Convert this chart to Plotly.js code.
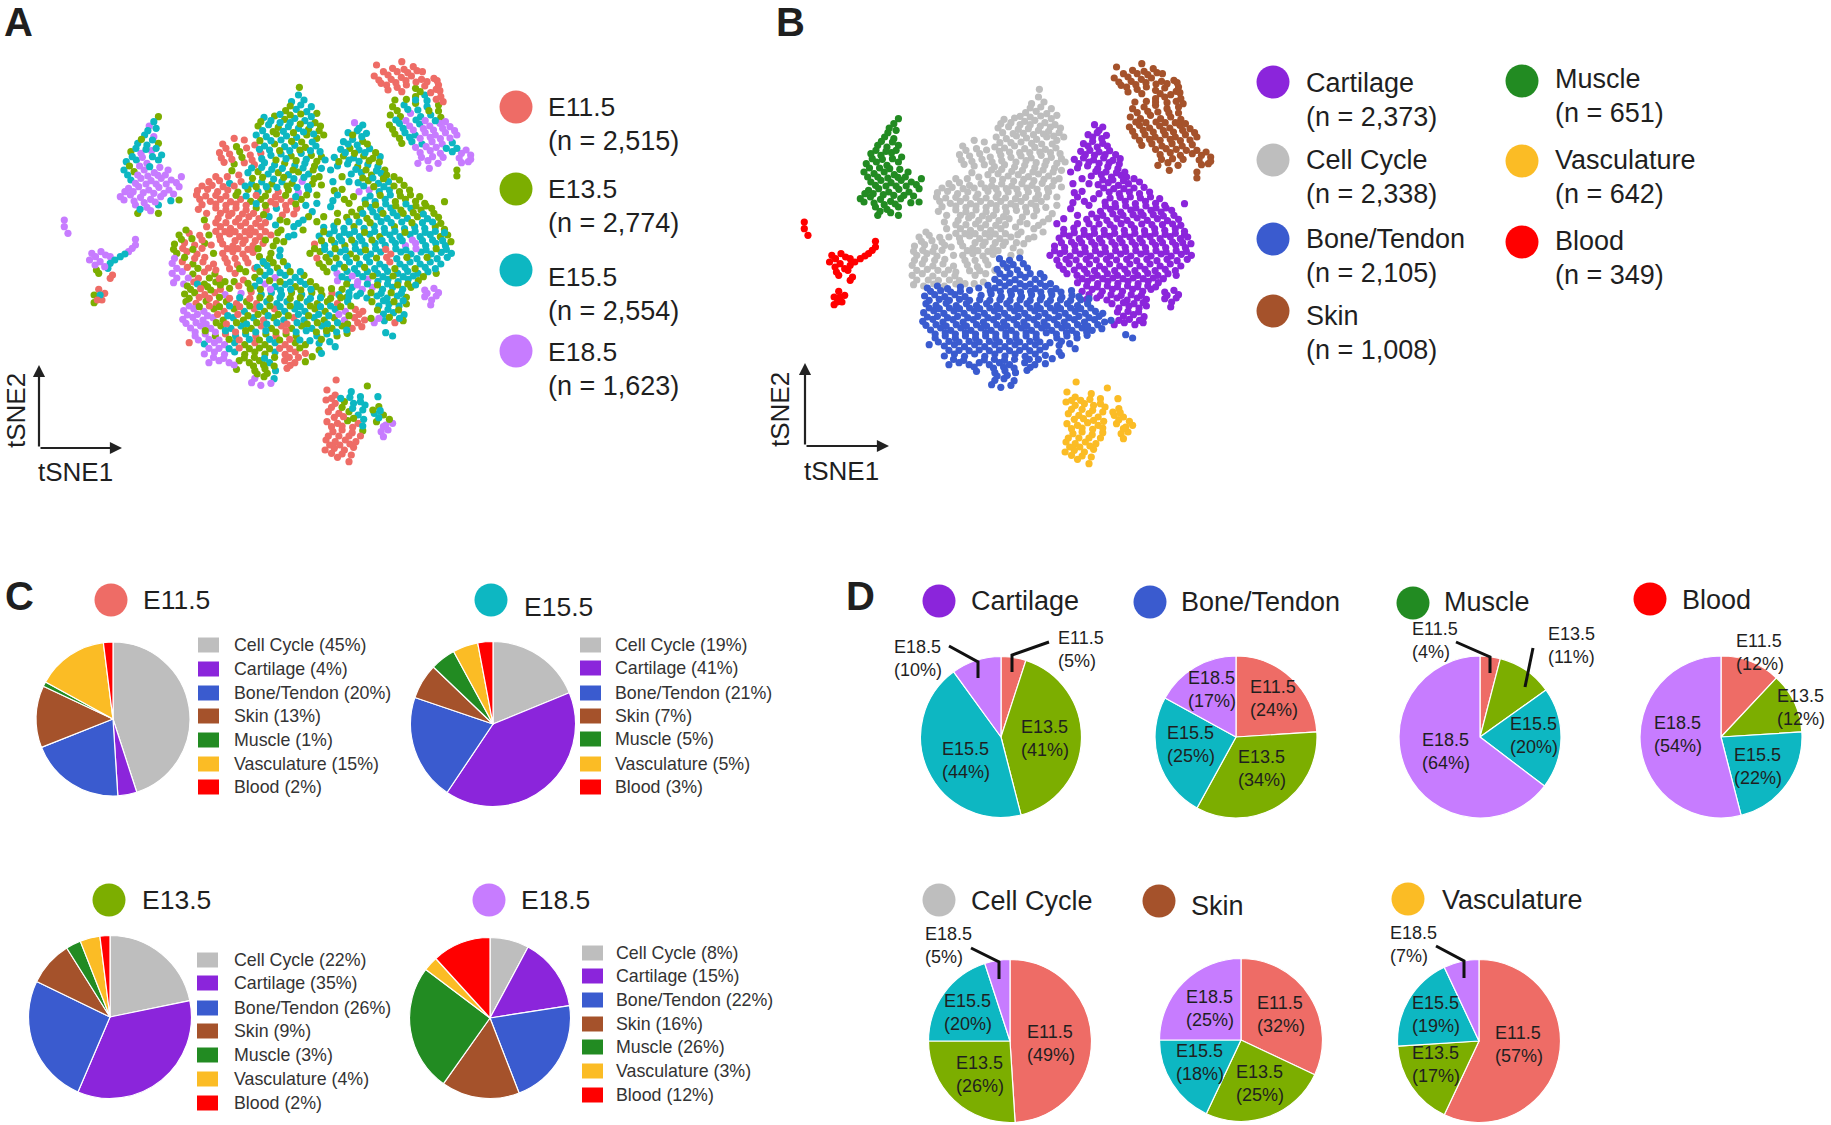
<!DOCTYPE html>
<html>
<head>
<meta charset="utf-8">
<script src="https://cdn.plot.ly/plotly-3.0.1.min.js"></script>
<style>body{margin:0;background:#fff}</style>
</head>
<body>
<div id="chart"></div>
<script>
const W = 1831, H = 1125;

// stages and cell types
const stages = ['E11.5', 'E13.5', 'E15.5', 'E18.5'];
const stageCounts = ['2,515', '2,774', '2,554', '1,623'];
const stageColors = ['#EE6C66', '#7CAE00', '#0DB7C2', '#C77CFF'];

const cellTypes = ['Cell Cycle', 'Cartilage', 'Bone/Tendon', 'Skin', 'Muscle', 'Vasculature', 'Blood'];
const cellTypeCounts = ['2,338', '2,373', '2,105', '1,008', '651', '642', '349'];
const cellTypeColors = ['#BEBEBE', '#8B25DB', '#3A5BCF', '#A5522B', '#228B22', '#FBBC25', '#FF0000'];

// panel C: cell type share per stage
const mixE115 = [45, 4, 20, 13, 1, 15, 2];
const mixE135 = [22, 35, 26, 9, 3, 4, 2];
const mixE155 = [19, 41, 21, 7, 5, 5, 3];
const mixE185 = [8, 15, 22, 16, 26, 3, 12];

// panel D: stage share per cell type
const mixCartilage = [5, 41, 44, 10];
const mixBone = [24, 34, 25, 17];
const mixMuscle = [4, 11, 20, 64];
const mixBlood = [12, 12, 22, 54];
const mixCycle = [49, 26, 20, 5];
const mixSkin = [32, 25, 18, 25];
const mixVasc = [57, 17, 19, 7];

// tSNE cells: x, y, stage index, repeated
const cyclePts = [
652,262,1, 650,285,2, 635,305,2, 662,300,2, 622,332,1, 645,328,2, 668,335,2, 690,340,1,
575,352,2, 598,348,1, 620,358,1, 642,355,2, 664,362,2, 686,368,1,
562,378,1, 585,374,2, 606,382,1, 628,380,2, 650,385,2, 672,388,1, 695,392,1,
558,405,2, 580,410,2, 602,402,1, 624,408,2, 646,412,2, 668,405,1, 690,415,1,
485,432,0, 510,415,0, 532,420,0, 555,435,0, 576,438,2, 598,432,1, 620,440,2, 642,436,2, 665,442,1, 688,438,2,
478,458,0, 500,462,0, 522,455,1, 545,465,0, 568,460,0, 590,466,2, 612,462,2, 634,468,1, 656,460,2, 678,466,1, 700,470,1,
488,487,0, 510,492,1, 532,488,0, 554,494,0, 576,488,2, 598,495,2, 620,490,1, 642,497,2, 664,490,2, 685,498,1,
540,518,2, 562,515,1, 584,522,2, 606,518,1, 628,524,2, 650,516,1, 672,522,2,
455,545,0, 478,542,0, 500,550,2, 525,545,0, 548,552,2, 570,546,2, 592,552,1, 614,545,2, 636,550,1, 658,544,3, 680,552,1,
430,572,0, 452,568,0, 474,575,0, 496,570,0, 518,576,1, 540,568,1, 562,575,2, 584,570,1, 606,576,0, 628,570,1, 650,578,3, 672,570,2,
435,598,0, 458,604,0, 480,598,0, 502,605,0, 524,598,0, 546,604,1, 568,598,1, 590,605,0, 612,598,0, 634,604,0, 656,598,1,
432,628,0, 470,624,0, 492,630,0, 514,624,0, 536,630,0, 558,624,1, 580,630,0, 602,625,2, 624,630,0, 646,625,0,
475,655,0, 498,648,0, 520,655,0, 542,650,0, 564,656,0, 586,650,2,
480,680,0, 502,685,0, 524,678,0, 546,685,0, 568,680,0, 612,690,1, 640,680,2,
390,705,1, 412,700,0, 435,706,0, 478,708,0, 500,702,0, 522,710,0, 544,704,0, 566,710,0, 590,705,0,
380,732,1, 402,728,0, 424,735,0, 446,730,1, 485,732,0, 507,738,0, 529,730,0, 551,737,0, 573,730,0, 595,738,1,
385,760,1, 407,755,0, 429,762,0, 485,760,0, 507,755,0, 529,762,0, 551,757,0,
375,790,3, 397,785,0, 420,792,1, 442,786,0, 465,792,0, 495,788,0, 517,794,0, 540,788,0,
375,820,3, 397,815,3, 420,822,1, 445,816,0, 468,822,1, 512,820,0, 535,815,1,
378,848,3, 400,852,3, 422,846,0, 445,852,1, 470,846,1,
632,318,1, 655,315,2, 678,320,2, 610,343,2, 632,345,1, 655,342,1, 678,350,2,
568,365,1, 590,362,2, 610,368,2, 632,368,2, 654,372,1, 676,375,2, 698,378,1,
572,392,2, 595,395,1, 617,394,2, 639,398,1, 661,396,2, 683,402,2, 705,405,1,
566,422,1, 590,422,2, 612,420,2, 635,424,1, 657,426,1, 680,426,2,
492,445,0, 515,440,1, 537,444,0, 565,448,2, 587,450,2, 609,452,1, 631,452,2, 653,450,1, 676,452,2, 697,455,2,
482,474,0, 505,478,0, 527,472,1, 549,480,0, 570,476,2, 601,480,1, 623,476,2, 645,482,1, 667,478,2, 690,484,1,
548,504,2, 570,502,2, 592,508,2, 615,505,2, 638,510,1, 660,504,2, 682,510,1,
470,530,0, 550,535,1, 572,532,1, 596,537,2, 618,532,1, 640,536,2, 662,532,2, 684,536,1,
440,558,0, 462,556,0, 486,560,0, 510,558,0, 534,558,2, 558,560,1, 580,560,2, 603,562,2, 625,558,1, 647,562,2, 670,560,2,
428,585,0, 448,588,0, 470,586,0, 492,588,0, 514,586,1, 536,588,2, 558,586,0, 578,588,1, 600,590,0, 622,586,1, 644,590,2, 668,585,1,
440,614,0, 470,612,0, 492,616,0, 514,612,0, 536,616,0, 558,611,2, 578,616,1, 600,612,0, 622,616,0, 644,612,1, 666,616,2,
480,640,0, 505,640,0, 528,642,0, 552,640,0, 574,644,1, 615,645,0, 640,642,0,
470,668,0, 492,668,0, 513,666,0, 535,668,0, 557,670,0, 578,668,0, 625,665,1, 650,670,2,
405,690,1, 470,694,0, 490,695,0, 512,695,0, 534,695,0, 556,696,0, 578,695,0, 605,698,1, 628,710,2,
395,718,1, 418,716,1, 440,720,0, 480,720,0, 512,722,0, 534,720,0, 556,722,0, 578,720,1, 602,722,1,
378,748,1, 398,745,0, 420,748,1, 440,745,0, 495,746,0, 518,746,0, 540,748,0, 562,746,1,
380,775,3, 402,772,1, 424,775,0, 446,772,0, 490,775,0, 512,775,0, 535,775,0,
385,805,3, 408,802,0, 431,805,1, 454,804,0, 500,806,0, 522,806,1,
385,834,3, 410,834,3, 432,835,0, 456,834,1, 478,836,0,
505,512,1, 520,525,0, 495,530,0, 708,480,2, 700,505,2, 695,530,1, 700,555,1, 690,585,1, 690,610,2, 680,635,2,
672,650,1, 660,660,2, 610,660,1, 600,675,2, 660,690,1, 640,705,2, 618,725,1, 610,750,2, 590,760,1, 575,790,1, 555,805,0,
450,640,0, 445,660,1, 450,680,0, 455,705,1, 460,735,0, 465,760,1, 470,810,0, 490,845,1, 510,845,1, 530,840,0
];

const cartilagePts = [
772,368,3, 790,375,2, 758,398,2, 778,392,2, 798,400,2, 748,425,2, 768,418,2, 790,424,1,
742,448,2, 762,445,1, 782,450,2, 805,446,2, 728,472,2, 748,468,1, 770,474,2, 792,468,1, 812,475,1, 828,470,2,
735,498,2, 757,492,2, 779,500,1, 801,494,2, 823,500,2, 838,510,1, 765,522,2, 787,518,2, 809,525,1, 830,520,2,
780,548,2, 802,542,1, 824,550,2, 846,545,2, 870,540,1,
728,572,1, 745,568,1, 782,575,3, 804,570,3, 826,575,2, 848,570,2, 870,575,1, 892,570,1,
725,602,2, 750,598,1, 795,600,2, 817,605,2, 839,598,2, 861,605,1, 883,598,1, 905,604,1, 925,610,1, 968,605,1,
785,628,1, 807,622,2, 829,630,2, 851,624,2, 873,630,1, 895,625,2, 917,630,1, 940,625,1,
755,652,1, 777,648,1, 799,655,1, 821,650,2, 843,655,2, 865,648,2, 887,655,2, 909,650,1, 931,656,2, 955,652,1,
705,682,2, 727,678,2, 749,685,2, 771,680,1, 793,685,2, 815,678,2, 837,685,2, 859,680,1, 881,686,2, 903,680,2, 925,685,2, 948,680,1, 968,688,1,
695,708,2, 717,702,2, 739,710,2, 761,704,2, 783,710,2, 805,703,2, 827,710,1, 849,705,2, 871,710,2, 893,704,2, 915,710,2, 937,704,2, 959,710,1, 975,705,1,
685,732,0, 707,736,2, 729,730,2, 751,737,1, 773,730,2, 795,737,2, 817,730,2, 839,736,2, 861,730,2, 883,737,3, 905,730,3, 927,737,2, 949,730,2, 970,737,2,
675,760,1, 697,755,1, 719,762,2, 741,756,2, 763,762,1, 785,756,2, 807,762,2, 829,756,2, 851,762,0, 873,756,2, 895,762,2, 917,756,2, 939,762,2, 961,757,2, 983,760,2,
695,790,1, 717,785,1, 739,792,2, 761,786,2, 783,792,2, 805,786,2, 827,792,2, 849,786,0, 871,792,2, 893,786,2, 915,792,2, 937,786,2, 960,792,2,
712,815,1, 734,820,3, 756,814,2, 778,820,2, 800,815,2, 822,820,2, 844,814,2, 866,820,2, 888,814,2, 910,820,2, 932,815,2, 950,820,1,
735,842,3, 757,838,2, 779,845,3, 801,838,3, 823,844,2, 845,838,2, 867,845,2, 889,838,2, 911,842,1,
745,868,1, 767,862,2, 789,868,3, 811,862,3, 833,868,2, 855,862,2, 877,868,2, 895,862,1, 925,870,3, 945,865,3,
755,892,1, 777,888,2, 799,894,2, 821,888,2, 843,894,2, 865,888,2, 885,892,1, 925,890,3, 950,888,3,
825,918,2, 847,912,2, 869,918,2, 885,912,1, 938,915,3, 835,942,2, 857,938,2, 880,944,2,
815,968,3, 837,962,2, 860,968,0, 878,962,1,
782,385,2, 768,405,1, 788,410,2, 758,432,2, 778,435,2, 800,432,1, 752,458,2, 772,460,1, 795,458,2, 818,458,1,
738,485,1, 760,480,2, 782,484,2, 804,482,1, 826,486,1, 775,508,2, 797,510,1, 820,512,2, 842,525,1,
790,534,1, 812,534,2, 835,536,1, 858,530,1, 735,585,2, 792,558,2, 814,560,1, 836,560,2, 858,558,1, 880,556,1,
806,588,2, 828,586,1, 850,585,2, 872,588,1, 894,585,1, 914,590,1,
796,612,1, 818,615,1, 840,612,2, 862,618,1, 884,612,2, 906,618,1, 928,618,1,
766,636,1, 790,640,2, 812,636,2, 834,640,1, 856,638,2, 878,640,1, 900,638,1, 922,642,2, 945,640,1,
735,665,1, 760,665,2, 782,666,2, 806,668,1, 830,665,2, 852,668,2, 875,666,2, 897,668,1, 920,668,2, 942,666,2, 960,670,1,
705,695,1, 728,692,2, 750,697,2, 772,694,2, 794,697,1, 816,694,2, 838,697,2, 860,694,2, 882,697,1, 904,694,2, 926,697,2, 948,694,2, 968,698,2,
700,722,1, 722,720,1, 744,722,2, 766,720,1, 788,722,2, 810,720,1, 832,722,2, 854,720,2, 876,722,2, 898,720,3, 920,722,2, 942,720,2, 964,722,2, 982,725,1,
685,746,1, 707,748,2, 730,746,1, 752,750,2, 774,746,2, 796,750,1, 818,746,2, 840,748,0, 862,746,2, 884,750,2, 906,746,3, 928,750,2, 950,746,1, 972,748,2,
690,774,0, 710,772,1, 732,774,1, 754,772,2, 776,774,1, 798,772,2, 820,774,1, 842,772,0, 864,776,2, 886,772,1, 908,776,2, 930,772,1, 952,776,2, 974,772,2,
704,802,1, 728,804,2, 750,802,1, 772,806,2, 794,802,1, 816,806,2, 838,802,2, 860,806,1, 882,802,2, 904,806,1, 926,802,2, 948,806,2,
745,830,2, 767,828,3, 790,830,2, 812,828,1, 834,830,2, 856,828,1, 878,830,2, 900,828,2, 922,830,1,
755,852,1, 778,855,3, 800,852,2, 822,855,1, 844,852,2, 866,855,1, 888,852,1, 905,855,2,
760,878,2, 785,880,2, 808,878,1, 830,880,2, 852,878,1, 874,880,2, 930,880,3, 955,878,3,
810,905,1, 835,902,2, 858,905,1, 878,902,2, 940,900,3,
822,930,1, 845,928,2, 868,930,1, 825,955,3, 848,952,1, 870,955,2,
720,620,2, 735,640,1, 705,650,1, 690,665,1, 760,610,1, 770,590,1, 760,545,2, 720,510,2, 745,530,1, 725,545,2
];

const bonePts = [
565,770,1, 587,775,1, 609,768,2, 560,802,2, 582,797,2, 604,804,1, 626,798,2,
555,832,1, 577,826,2, 599,833,3, 621,826,2, 643,832,2, 662,826,1,
408,858,1, 430,852,2, 452,860,1, 555,858,2, 577,852,3, 599,860,2, 621,853,2, 643,860,1, 665,853,2, 688,860,1,
402,882,1, 424,878,1, 446,884,0, 468,878,0, 490,884,3, 525,880,3, 547,876,0, 569,884,2, 591,878,2, 613,884,2, 635,878,1, 657,884,2, 679,878,1, 701,885,1, 723,880,0, 738,884,2,
405,905,1, 427,910,0, 449,904,1, 471,911,0, 493,905,1, 515,911,0, 537,905,1, 559,911,0, 581,905,2, 603,911,2, 625,905,2, 647,911,2, 669,905,2, 691,911,1, 713,905,1, 735,911,0, 757,905,2,
400,932,3, 422,926,3, 444,934,3, 466,927,1, 488,934,0, 510,927,1, 532,934,2, 554,927,0, 576,934,1, 598,927,0, 620,934,2, 642,927,2, 664,934,2, 686,927,1, 708,934,1, 730,928,2, 752,934,3, 774,928,0, 790,934,0,
398,958,3, 420,952,3, 442,960,3, 464,953,3, 486,960,1, 508,953,2, 530,960,1, 552,953,2, 574,960,0, 596,953,1, 618,960,2, 640,953,0, 662,960,2, 684,953,2, 706,960,1, 728,953,1, 750,960,3, 772,953,0, 794,960,0, 808,955,1,
415,984,3, 437,978,3, 459,985,3, 481,978,1, 503,985,2, 525,978,2, 547,985,1, 569,978,0, 591,985,1, 613,978,0, 635,985,1, 657,978,1, 679,985,2, 701,978,2, 723,985,1, 745,978,1, 767,985,0, 788,980,0,
425,1008,3, 447,1002,3, 469,1008,1, 491,1002,0, 513,1008,2, 535,1002,2, 557,1008,0, 579,1002,1, 601,1008,0, 623,1002,1, 645,1008,1, 690,1008,2, 712,1002,2, 734,1008,1, 756,1000,1,
412,1028,0, 445,1032,2, 467,1028,3, 489,1034,3, 511,1028,2, 533,1034,1, 555,1028,0, 577,1034,1, 599,1028,2, 621,1034,0, 643,1028,1, 665,1034,1, 695,1030,2, 718,1025,2,
445,1062,3, 467,1056,3, 489,1063,3, 511,1056,2, 533,1063,1, 555,1056,1, 577,1062,1, 599,1056,2, 621,1063,0, 643,1056,0, 665,1060,0, 695,1050,1,
455,1088,3, 477,1082,3, 499,1088,3, 521,1082,1, 543,1088,1, 565,1082,1, 587,1088,2, 620,1082,0, 642,1088,0,
515,1108,1, 555,1112,1, 577,1106,1, 600,1112,2, 625,1105,0, 555,1135,3, 575,1130,1, 597,1136,2, 568,1156,3, 590,1150,3,
840,998,2, 855,1008,2, 730,1040,2,
573,785,2, 595,788,1, 617,785,1, 566,815,1, 588,815,2, 610,818,2, 632,815,1, 654,815,2,
565,842,2, 587,842,1, 610,845,1, 632,846,2, 654,844,2, 676,845,1,
415,868,1, 437,866,0, 459,870,1, 480,868,0, 545,866,1, 567,868,1, 589,868,3, 611,870,2, 633,868,2, 655,870,1, 677,868,2, 699,870,1, 722,866,1,
412,895,1, 434,892,0, 456,895,0, 478,892,1, 500,895,0, 522,893,2, 544,895,0, 566,893,1, 588,895,1, 610,893,2, 632,895,1, 654,893,1, 676,895,2, 698,893,2, 720,895,1, 742,893,1, 760,890,2,
412,918,3, 434,920,1, 456,918,0, 478,920,1, 500,918,2, 522,920,0, 544,918,1, 566,920,2, 588,918,1, 610,920,2, 632,918,1, 654,920,2, 676,918,1, 698,920,2, 720,918,2, 742,920,1, 764,918,1,
408,945,3, 430,943,3, 452,947,3, 474,943,0, 496,947,2, 518,943,0, 540,947,1, 562,943,1, 584,947,2, 606,943,1, 628,947,1, 650,943,2, 672,947,1, 694,943,2, 716,947,2, 738,943,3, 760,947,1, 782,943,0,
405,970,3, 427,968,3, 449,972,3, 471,968,1, 493,972,0, 515,968,1, 537,972,2, 559,968,1, 581,972,2, 603,968,2, 625,972,0, 647,968,2, 669,972,1, 691,968,1, 713,972,2, 735,968,2, 757,972,1, 779,968,0,
425,996,3, 447,992,1, 469,996,3, 491,992,2, 513,996,0, 535,992,1, 557,996,2, 579,992,2, 601,996,1, 623,992,0, 645,996,2, 667,992,2, 689,996,1, 711,992,1, 733,996,2, 755,990,2,
432,1020,3, 455,1018,3, 477,1020,3, 499,1018,1, 521,1020,0, 543,1018,2, 565,1020,1, 587,1018,2, 609,1020,1, 631,1018,0, 653,1020,2, 675,1022,2, 700,1018,1,
455,1045,3, 477,1045,3, 499,1046,2, 521,1044,0, 543,1046,1, 565,1044,1, 587,1046,1, 609,1045,0, 631,1046,0, 653,1044,1,
465,1072,3, 487,1075,3, 532,1074,1, 554,1072,1, 576,1075,2, 598,1072,1, 630,1072,0, 650,1072,0,
510,1095,3, 552,1098,1, 574,1095,1, 597,1098,1, 632,1096,0, 560,1122,1, 582,1120,1, 548,1148,3,
480,855,1, 500,865,1, 520,858,0, 540,850,1, 665,1085,1, 680,1070,1, 700,1060,2
];

const skinPts = [
820,195,0, 815,228,0, 835,215,0, 855,205,0, 875,185,0, 880,208,0, 900,200,0, 920,215,0,
830,250,0, 852,238,0, 874,232,0, 896,228,0, 918,238,0, 945,235,0, 955,255,0,
845,270,0, 865,262,0, 885,255,0, 905,265,1, 925,258,0, 950,268,0, 905,290,1, 925,285,2, 960,290,0,
855,320,1, 880,315,2, 905,310,1, 930,320,2, 955,315,1, 965,305,0,
850,345,1, 872,350,1, 894,340,3, 916,350,2, 938,345,2, 960,352,1,
848,375,1, 870,370,2, 892,378,3, 914,372,2, 936,378,3, 958,370,3, 980,380,3,
860,402,1, 882,398,2, 904,405,2, 926,398,3, 948,405,3, 970,398,3, 995,405,3,
875,430,1, 897,425,2, 919,432,2, 941,425,3, 963,432,3, 985,428,2,
915,458,3, 937,452,3, 959,460,3, 985,455,2, 1005,460,3, 1025,465,3,
910,490,3, 932,482,3, 954,490,3, 1005,488,3, 1020,485,3, 935,505,3, 995,510,1, 995,528,1,
825,240,0, 845,225,0, 865,215,0, 888,218,0, 908,212,0, 842,255,0, 862,248,0, 884,242,0, 906,246,0, 930,245,0, 952,242,0,
875,275,0, 915,275,1, 938,278,0, 958,272,0, 860,300,1, 885,298,1, 905,300,2, 930,302,2, 950,298,0,
865,332,1, 888,328,2, 910,330,2, 934,332,1, 955,333,1, 862,360,2, 884,362,3, 906,360,2, 926,362,3, 948,362,2, 970,365,3,
855,388,1, 878,385,2, 900,390,3, 922,386,3, 944,390,3, 964,385,3, 990,392,3,
870,415,1, 892,412,2, 915,415,3, 937,412,3, 959,416,3, 980,414,3,
905,442,3, 928,440,3, 950,442,3, 972,445,2, 995,445,2, 1015,450,3, 918,472,3, 942,470,3, 965,472,3, 1000,474,3, 1025,478,3
];

const musclePts = [
345,350,1, 325,378,3, 340,385,2, 315,405,2, 335,410,3, 300,430,2, 320,435,2, 345,430,1,
285,455,1, 307,460,3, 330,452,3, 275,485,2, 297,480,2, 320,490,3, 345,480,2,
270,510,2, 292,515,1, 314,510,3, 336,518,3, 360,525,3,
285,540,2, 307,535,3, 329,542,3, 351,535,3, 373,540,3, 395,530,3,
280,565,3, 302,560,3, 324,570,3, 346,562,3, 368,570,3, 390,560,3,
262,590,3, 284,585,3, 306,592,3, 328,598,3, 350,590,3, 372,602,2, 390,600,1,
295,615,3, 320,622,3, 345,615,2, 300,640,1, 345,640,1,
335,365,2, 322,392,2, 308,418,1, 332,420,2, 296,445,2, 318,448,2, 340,445,2, 288,470,2, 310,472,3, 332,470,2, 352,465,2,
282,498,1, 304,498,3, 326,500,2, 348,502,3, 278,525,2, 300,525,3, 322,528,3, 344,526,3, 366,510,3,
295,550,3, 318,552,3, 340,552,3, 362,552,3, 384,548,3, 272,575,3, 290,575,3, 312,578,3, 335,580,3, 357,580,3, 378,582,3,
270,600,3, 292,603,3, 314,608,3, 338,606,3, 305,628,2, 328,632,3
];

const bloodPts = [
140,660,3, 140,680,3, 148,700,3, 200,760,3, 220,755,3, 240,770,3, 195,780,3, 218,785,3, 240,790,2,
210,810,1, 235,805,2, 245,825,0, 240,835,0, 262,770,2, 280,755,3, 295,735,3, 295,718,3,
215,868,0, 228,880,0, 205,885,1, 222,900,0, 205,908,1,
208,770,3, 230,765,3, 207,795,3, 228,800,3, 250,780,2, 272,762,2, 288,745,3, 215,820,1, 218,885,2, 212,900,0
];

const vascPts = [
732,1140,0, 800,1158,1, 823,1190,2, 712,1170,0, 730,1185,0, 765,1175,2, 785,1190,2,
710,1200,0, 730,1210,0, 750,1205,1, 770,1210,2, 795,1215,2, 825,1220,1,
715,1235,0, 738,1240,0, 760,1235,1, 780,1245,2, 815,1240,2, 835,1245,1,
712,1265,0, 735,1270,0, 757,1262,1, 780,1270,0, 820,1265,1, 840,1275,3, 855,1270,3,
725,1295,0, 745,1290,0, 767,1298,0, 790,1292,1, 830,1295,3, 845,1290,3,
710,1320,0, 730,1325,0, 752,1320,0, 775,1325,0, 835,1310,3,
708,1350,0, 728,1345,0, 750,1350,0, 770,1342,0, 735,1372,0, 760,1385,0,
722,1195,0, 742,1195,2, 762,1192,2, 785,1205,2, 812,1230,1,
722,1222,0, 745,1222,1, 768,1225,2, 790,1230,2, 828,1232,2,
728,1252,0, 748,1250,0, 770,1255,1, 792,1258,2, 825,1253,2, 848,1258,1,
722,1280,0, 745,1278,0, 768,1282,0, 790,1278,2, 835,1280,3,
715,1308,0, 738,1308,0, 760,1308,0, 785,1308,0,
718,1335,0, 740,1335,0, 762,1332,0, 722,1360,0, 745,1362,0, 765,1365,0
];

const cellGroups = [cyclePts, cartilagePts, bonePts, skinPts, musclePts, vascPts, bloodPts];
const cellsX = [], cellsY = [], cellsByStage = [], cellsByType = [];
cellGroups.forEach((pts, t) => {
    for (let i = 0; i < pts.length; i += 3) {
        cellsX.push(pts[i]);
        cellsY.push(pts[i + 1]);
        cellsByStage.push(stageColors[pts[i + 2]]);
        cellsByType.push(cellTypeColors[t]);
    }
});

// tSNE scatters, one per panel
const tsneA = {x: cellsX, y: cellsY, type: 'scatter', mode: 'markers', xaxis: 'x', yaxis: 'y',
    marker: {size: 7.2, color: cellsByStage}, hoverinfo: 'skip'};
const tsneB = {x: cellsX, y: cellsY, type: 'scatter', mode: 'markers', xaxis: 'x2', yaxis: 'y2',
    marker: {size: 7.2, color: cellsByType}, hoverinfo: 'skip'};

// everything below sits on a page sized overlay axis
const annotations = [];
const shapes = [];

function label(x, y, text, size, opts) {
    annotations.push(Object.assign({
        x: x, y: y, xref: 'x3', yref: 'y3', text: text, showarrow: false,
        xanchor: 'left', yanchor: 'middle', align: 'left', borderpad: 0,
        font: {family: 'Liberation Sans, Arial, sans-serif', size: size, color: '#1f1f1f'}
    }, opts || {}));
}

const dotX = [], dotY = [], dotC = [];
function dot(x, y, color) { dotX.push(x); dotY.push(y); dotC.push(color); }

// panel letters
label(3, 22, '<b>A</b>', 40);
label(775, 22, '<b>B</b>', 40);
label(4, 596, '<b>C</b>', 40);
label(845, 596, '<b>D</b>', 40);

// tSNE arrows
function tsneArrows(ox, oy, endX, endY, x1, y1, x2, y2) {
    [[endX, oy], [ox, endY]].forEach(p => annotations.push({
        x: p[0], y: p[1], ax: ox, ay: oy, xref: 'x3', yref: 'y3', axref: 'x3', ayref: 'y3', text: '',
        showarrow: true, arrowhead: 2, arrowsize: 1.1, arrowwidth: 2.2, arrowcolor: '#222', standoff: 0
    }));
    label(x1, y1, 'tSNE1', 26, {xanchor: 'center'});
    label(x2, y2, 'tSNE2', 26, {xanchor: 'center', textangle: -90});
}
tsneArrows(39, 448, 122, 365, 75, 472, 16, 411);
tsneArrows(805, 446, 889, 363, 841, 471, 780, 410);

// panel A legend
const legendAY = [107, 189, 270, 351];
const legendATextY = [107, 189, 277, 352];
stages.forEach((s, i) => {
    dot(516, legendAY[i], stageColors[i]);
    label(547, legendATextY[i], s, 26.5);
    label(547, legendATextY[i] + 34, '(n = ' + stageCounts[i] + ')', 27);
});

// panel B legend, in the order of the picture
const legendBOrder = [1, 0, 2, 3, 4, 5, 6];
const legendBX = [1273, 1273, 1273, 1273, 1522, 1522, 1522];
const legendBY = [82, 160, 239, 311, 81, 161, 242];
const legendBTextY = [83, 160, 239, 316, 79, 160, 241];
legendBOrder.forEach((t, i) => {
    dot(legendBX[i], legendBY[i], cellTypeColors[t]);
    const tx = legendBX[i] + 32;
    label(tx, legendBTextY[i], cellTypes[t], 27);
    label(tx, legendBTextY[i] + 34, '(n = ' + cellTypeCounts[t] + ')', 27);
});

function pieAt(values, labels, colors, cx, cy, d) {
    const r = d / 2;
    return {
        type: 'pie', values: values, labels: labels, sort: false, direction: 'clockwise', rotation: 0,
        textinfo: 'none', hoverinfo: 'label+percent',
        marker: {colors: colors, line: {color: '#fff', width: 1.2}},
        domain: {x: [(cx - r) / W, (cx + r) / W], y: [1 - (cy + r) / H, 1 - (cy - r) / H]}
    };
}

// panel C
const pies = [];
const panelC = [
    {mix: mixE115, s: 0, cx: 113, cy: 719, d: 154, dotX: 111, dotY: 600, tx: 142, ty: 600, swX: 198, txtX: 233,
     rows: [645, 669, 693, 716, 740, 764, 787]},
    {mix: mixE155, s: 2, cx: 493, cy: 724, d: 165, dotX: 491, dotY: 600, tx: 523, ty: 607, swX: 580, txtX: 614,
     rows: [645, 668, 693, 716, 739, 764, 787]},
    {mix: mixE135, s: 1, cx: 110, cy: 1017, d: 163, dotX: 109, dotY: 900, tx: 141, ty: 900, swX: 197, txtX: 233,
     rows: [960, 983, 1008, 1031, 1055, 1079, 1103]},
    {mix: mixE185, s: 3, cx: 490, cy: 1018, d: 161, dotX: 489, dotY: 900, tx: 520, ty: 900, swX: 582, txtX: 615,
     rows: [953, 976, 1000, 1024, 1047, 1071, 1095]}
];
panelC.forEach(p => {
    pies.push(pieAt(p.mix, cellTypes, cellTypeColors, p.cx, p.cy, p.d));
    dot(p.dotX, p.dotY, stageColors[p.s]);
    label(p.tx, p.ty, stages[p.s], 26.5);
    cellTypes.forEach((t, i) => {
        shapes.push({type: 'rect', xref: 'x3', yref: 'y3', x0: p.swX, x1: p.swX + 21,
            y0: p.rows[i] - 7.5, y1: p.rows[i] + 7.5, fillcolor: cellTypeColors[i], line: {width: 0}});
        label(p.txtX, p.rows[i], t + ' (' + p.mix[i] + '%)', 17.8, {font: {family: 'Liberation Sans, Arial, sans-serif', size: 17.8, color: '#333'}});
    });
});

// panel D, label spots follow stage order E11.5, E13.5, E15.5, E18.5
const panelD = [
    {mix: mixCartilage, t: 1, cx: 1001, cy: 737, d: 161, dotX: 939, dotY: 601, tx: 970, ty: 601,
     lx: [1057, 1020, 941, 893], ly: [649, 738, 760, 658]},
    {mix: mixBone, t: 2, cx: 1236, cy: 737, d: 162, dotX: 1150, dotY: 602, tx: 1180, ty: 602,
     lx: [1249, 1237, 1166, 1187], ly: [698, 768, 744, 689]},
    {mix: mixMuscle, t: 4, cx: 1480, cy: 737, d: 162, dotX: 1413, dotY: 603, tx: 1443, ty: 602,
     lx: [1411, 1547, 1509, 1421], ly: [640, 645, 735, 751]},
    {mix: mixBlood, t: 6, cx: 1721, cy: 737, d: 162, dotX: 1650, dotY: 599, tx: 1681, ty: 600,
     lx: [1735, 1776, 1733, 1653], ly: [652, 707, 766, 734]},
    {mix: mixCycle, t: 0, cx: 1010, cy: 1041, d: 163, dotX: 939, dotY: 900, tx: 970, ty: 901,
     lx: [1026, 955, 943, 924], ly: [1043, 1074, 1012, 945]},
    {mix: mixSkin, t: 3, cx: 1241, cy: 1040, d: 163, dotX: 1159, dotY: 901, tx: 1190, ty: 906,
     lx: [1256, 1235, 1175, 1185], ly: [1014, 1083, 1062, 1008]},
    {mix: mixVasc, t: 5, cx: 1479, cy: 1041, d: 163, dotX: 1408, dotY: 899, tx: 1441, ty: 900,
     lx: [1494, 1411, 1411, 1389], ly: [1044, 1064, 1014, 944]}
];
panelD.forEach(p => {
    pies.push(pieAt(p.mix, stages, stageColors, p.cx, p.cy, p.d));
    dot(p.dotX, p.dotY, cellTypeColors[p.t]);
    label(p.tx, p.ty, cellTypes[p.t], 27);
    stages.forEach((s, i) => label(p.lx[i], p.ly[i], s + '<br>(' + p.mix[i] + '%)', 18));
});

// leader lines to the small slices
const leaders = [
    'M1049,642 L1012,655 L1012,672',
    'M949,646 L978,662 L978,678',
    'M1456,642 L1490,657 L1490,673',
    'M1533,648 L1525,687',
    'M971,948 L999,962 L999,979',
    'M1436,946 L1464,961 L1464,978'
];
leaders.forEach(d => shapes.push({type: 'path', xref: 'x3', yref: 'y3', path: d, line: {color: '#111', width: 3}}));

const dots = {x: dotX, y: dotY, type: 'scatter', mode: 'markers', xaxis: 'x3', yaxis: 'y3',
    marker: {size: 33, color: dotC}, hoverinfo: 'skip'};

const hidden = {visible: false, fixedrange: true};

Plotly.newPlot('chart', [tsneA, tsneB, dots].concat(pies), {
    width: W, height: H,
    margin: {l: 0, r: 0, t: 0, b: 0},
    showlegend: false,
    paper_bgcolor: '#fff', plot_bgcolor: 'rgba(0,0,0,0)',
    xaxis: {...hidden, domain: [0, 720 / W], range: [0, 1568]},
    yaxis: {...hidden, domain: [1 - 500 / H, 1], range: [1500, 0]},
    xaxis2: {...hidden, domain: [740 / W, 1460 / W], range: [0, 1568]},
    yaxis2: {...hidden, domain: [1 - 502 / H, 1 - 2 / H], range: [1500, 0]},
    xaxis3: {...hidden, domain: [0, 1], range: [0, W]},
    yaxis3: {...hidden, domain: [0, 1], range: [H, 0]},
    annotations: annotations,
    shapes: shapes
}, {displayModeBar: false});
</script>
</body>
</html>
